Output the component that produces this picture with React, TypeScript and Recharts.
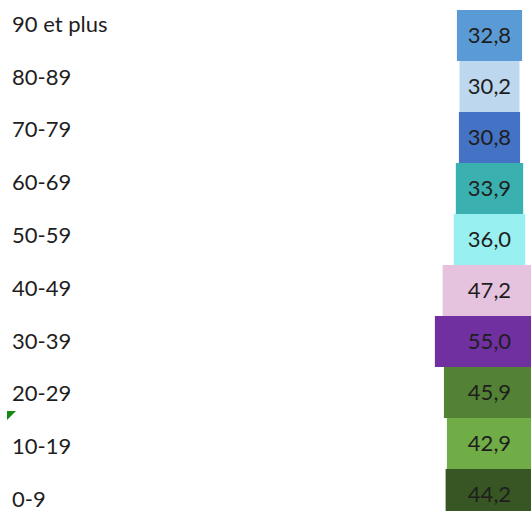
import { BarChart, Bar, XAxis, YAxis, Cell, LabelList } from "recharts";

const ageGroups = ["90 et plus", "80-89", "70-79", "60-69", "50-59", "40-49", "30-39", "20-29", "10-19", "0-9"];
const values = [32.8, 30.2, 30.8, 33.9, 36.0, 47.2, 55.0, 45.9, 42.9, 44.2];
const barColors = [
  "#5b9bd5",
  "#bdd7ee",
  "#4472c4",
  "#3bb0b0",
  "#99f0f0",
  "#e5c3df",
  "#7030a0",
  "#538135",
  "#70ad47",
  "#375623",
];

const data = ageGroups.map((age, i) => ({ age, value: values[i] }));

const FONT = "Lato, 'Open Sans', sans-serif";
const TEXT = "#1e1e1e";

// eslint-disable-next-line @typescript-eslint/no-explicit-any
function AgeTick({ y, payload }: any) {
  return (
    <text x={12} y={y} dy="0.36em" fontSize={22} fontFamily={FONT} fill={TEXT}>
      {payload.value}
    </text>
  );
}

export default function App() {
  return (
    <div style={{ position: "absolute", top: 0, left: 0, width: 531, height: 511, overflow: "hidden", background: "#fff" }}>
      <BarChart
        width={560}
        height={530}
        data={data}
        layout="vertical"
        barCategoryGap={0}
        margin={{ top: 10, right: 0, bottom: 10, left: 0 }}
      >
        <XAxis type="number" domain={[-71, 71]} allowDataOverflow hide />
        <YAxis yAxisId="bars" type="category" dataKey="age" hide />
        <YAxis
          yAxisId="labels"
          type="category"
          dataKey="age"
          scale="point"
          width={419}
          padding={{ top: 14, bottom: 21 }}
          axisLine={false}
          tickLine={false}
          tick={<AgeTick />}
          interval={0}
        />
        <Bar
          yAxisId="bars"
          dataKey={(d: { value: number }) => [-d.value, d.value]}
          isAnimationActive={false}
        >
          {data.map((d, i) => (
            <Cell key={d.age} fill={barColors[i]} />
          ))}
          <LabelList
            dataKey="value"
            position="center"
            fill={TEXT}
            fontSize={22}
            fontFamily={FONT}
            formatter={(v: number) => v.toFixed(1).replace(".", ",")}
          />
        </Bar>
      </BarChart>
      {/* spreadsheet cell marker */}
      <svg width={20} height={20} style={{ position: "absolute", left: 0, top: 404 }}>
        <polygon points="7,7 16,7 7,16" fill="#138a13" />
      </svg>
    </div>
  );
}
